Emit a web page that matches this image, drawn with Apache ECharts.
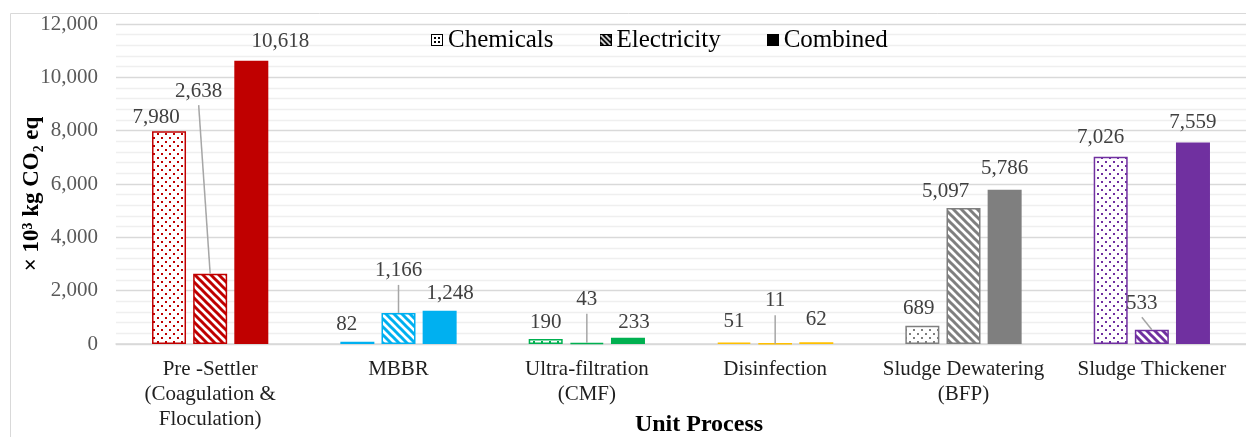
<!DOCTYPE html>
<html>
<head>
<meta charset="utf-8">
<script src="https://cdn.jsdelivr.net/npm/echarts@6/dist/echarts.min.js"></script>
<style>
  html, body { margin: 0; padding: 0; background: #fff; }
  #chart { width: 1246px; height: 437px; }
</style>
</head>
<body>
<div id="chart"></div>
<script>
// data
var categories = ['Pre -Settler\n(Coagulation &\nFloculation)', 'MBBR', 'Ultra-filtration\n(CMF)', 'Disinfection', 'Sludge Dewatering\n(BFP)', 'Sludge Thickener'];
var chemicals = [7980, 82, 190, 51, 689, 7026];
var electricity = [2638, 1166, 43, 11, 5097, 533];
var combined = [10618, 1248, 233, 62, 5786, 7559];
var seriesNames = ['Chemicals', 'Electricity', 'Combined'];

var groupColors = ['#C00000', '#00B0F0', '#00B050', '#FFC000', '#7F7F7F', '#7030A0'];
var serif = 'Liberation Serif';

// pattern tiles
function dotPattern(color) {
  var c = document.createElement('canvas');
  c.width = 8; c.height = 8;
  var g = c.getContext('2d');
  g.fillStyle = '#fff'; g.fillRect(0, 0, 8, 8);
  g.fillStyle = color;
  g.fillRect(1, 1, 2, 2);
  g.fillRect(5, 5, 2, 2);
  return c;
}
function stripePattern(color) {
  var s = 8;
  var c = document.createElement('canvas');
  c.width = s; c.height = s;
  var g = c.getContext('2d');
  g.fillStyle = '#fff'; g.fillRect(0, 0, s, s);
  g.strokeStyle = color; g.lineWidth = 3;
  for (var k = -1; k <= 1; k++) {
    g.beginPath();
    g.moveTo(k * s - 2, -2);
    g.lineTo(k * s + s + 2, s + 2);
    g.stroke();
  }
  return c;
}
function legendIcon(kind) {
  var c = document.createElement('canvas');
  c.width = 12; c.height = 12;
  var g = c.getContext('2d');
  if (kind === 0) {
    g.fillStyle = '#fff'; g.fillRect(0, 0, 12, 12);
    g.strokeStyle = '#000'; g.lineWidth = 1; g.strokeRect(0.5, 0.5, 11, 11);
    g.fillStyle = '#000';
    g.fillRect(3, 3, 2, 2); g.fillRect(7, 3, 2, 2);
    g.fillRect(3, 7, 2, 2); g.fillRect(7, 7, 2, 2);
  } else if (kind === 1) {
    g.fillStyle = '#000'; g.fillRect(0, 0, 12, 12);
    g.strokeStyle = '#fff'; g.lineWidth = 1.6;
    for (var k = -2; k <= 2; k++) {
      g.beginPath(); g.moveTo(k * 5 + 1, 1); g.lineTo(k * 5 + 11, 11); g.stroke();
    }
    g.strokeStyle = '#000'; g.lineWidth = 1; g.strokeRect(0.5, 0.5, 11, 11);
  } else {
    g.fillStyle = '#000'; g.fillRect(0, 0, 12, 12);
  }
  return 'image://' + c.toDataURL();
}

var fmt = function (p) { return p.value.toLocaleString('en-US'); };
var labelStyle = {
  show: true, position: 'top', distance: 9,
  fontFamily: serif, fontSize: 21, color: '#404040', lineHeight: 21,
  formatter: fmt
};

// label nudges [dx, dy] per series, per bar (Excel placed them a bit unevenly)
var labelShift = [
  { 0: [-13, 6], 1: [-10.5, 2], 2: [0, 3], 3: [0, -2], 4: [-3.5, 2], 5: [-10, 0] },
  { 0: [-11.5, -163], 1: [0, -22.5], 2: [0, -23.5], 3: [0, -23], 4: [-18, 3], 5: [-10, -7] },
  { 0: [29, 0], 1: [10.5, 2], 2: [6, 4], 3: [0, -3], 4: [0, -2] }
];
var leaderLines = { 0: true, 1: true, 2: true, 3: true, 5: true };
var labelRise = 19.5; // default label centre above the bar top

function makeLayout(si) {
  return function (p) {
    var o = labelShift[si][p.dataIndex];
    return o ? { dx: o[0], dy: o[1] } : {};
  };
}

var chart = echarts.init(document.getElementById('chart'));
var option = {
  animation: false,
  grid: { left: 116, right: 0, top: 24, bottom: 93 },
  legend: {
    left: 426, top: 22,
    itemWidth: 12, itemHeight: 12, itemGap: 46,
    textStyle: { fontFamily: serif, fontSize: 25, color: '#000', lineHeight: 26 },
    data: seriesNames.map(function (n, i) { return { name: n, icon: legendIcon(i) }; })
  },
  xAxis: {
    type: 'category',
    data: categories,
    axisLine: { lineStyle: { color: '#d9d9d9', width: 1.5 } },
    axisTick: { show: false },
    axisLabel: { fontFamily: serif, fontSize: 21, color: '#1f1f1f', lineHeight: 25, margin: 13, interval: 0 }
  },
  yAxis: {
    type: 'value', min: 0, max: 12000, interval: 2000,
    axisLine: { show: false }, axisTick: { show: false },
    axisLabel: {
      fontFamily: serif, fontSize: 21, color: '#595959', margin: 18,
      formatter: function (v) { return v.toLocaleString('en-US'); }
    },
    splitLine: { lineStyle: { color: '#d9d9d9', width: 1.3 } },
    minorTick: { show: false, splitNumber: 5 },
    minorSplitLine: { show: true, lineStyle: { color: '#efefef', width: 1.3 } }
  },
  series: [
    {
      name: 'Chemicals', type: 'bar', barWidth: 34, barGap: '21%',
      label: labelStyle,
      labelLayout: makeLayout(0),
      data: chemicals.map(function (v, i) {
        return { value: v, itemStyle: { color: { image: dotPattern(groupColors[i]), repeat: 'repeat' }, borderColor: groupColors[i], borderWidth: 1.5 } };
      })
    },
    {
      name: 'Electricity', type: 'bar', barWidth: 34, barGap: '21%',
      label: labelStyle,
      labelLayout: makeLayout(1),
      data: electricity.map(function (v, i) {
        return { value: v, itemStyle: { color: { image: stripePattern(groupColors[i]), repeat: 'repeat' }, borderColor: groupColors[i], borderWidth: 1.5 } };
      })
    },
    {
      name: 'Combined', type: 'bar', barWidth: 34, barGap: '21%',
      label: labelStyle,
      labelLayout: makeLayout(2),
      data: combined.map(function (v, i) {
        return { value: v, itemStyle: { color: groupColors[i] } };
      })
    },
    {
      // leader lines from the moved electricity labels down to their bars
      name: 'leaders', type: 'custom', silent: true, z: 3,
      data: electricity.map(function (v, i) { return [i, v]; }),
      renderItem: function (params, api) {
        var i = api.value(0);
        if (!leaderLines[i]) return null;
        var top = api.coord([i, api.value(1)]);
        var o = labelShift[1][i];
        var lx = top[0] + o[0];
        var ly = top[1] - labelRise + o[1] + 14;
        return {
          type: 'line',
          shape: { x1: lx, y1: ly, x2: top[0], y2: top[1] },
          style: { stroke: '#a6a6a6', lineWidth: 1.5 }
        };
      }
    }
  ],
  graphic: [
    { type: 'rect', silent: true, z: -1, shape: { x: 10.5, y: 13.5, width: 1400, height: 600 }, style: { fill: 'none', stroke: '#d9d9d9', lineWidth: 1 } },
    { type: 'text', x: 32, y: 194, rotation: Math.PI / 2,
      style: { text: '× 10³ kg CO₂ eq', font: 'bold 23px "Liberation Serif"', fill: '#000', align: 'center', verticalAlign: 'middle' } },
    { type: 'text', x: 699, y: 425,
      style: { text: 'Unit Process', font: 'bold 24px "Liberation Serif"', fill: '#000', align: 'center', verticalAlign: 'middle' } }
  ]
};
chart.setOption(option);
</script>
</body>
</html>
